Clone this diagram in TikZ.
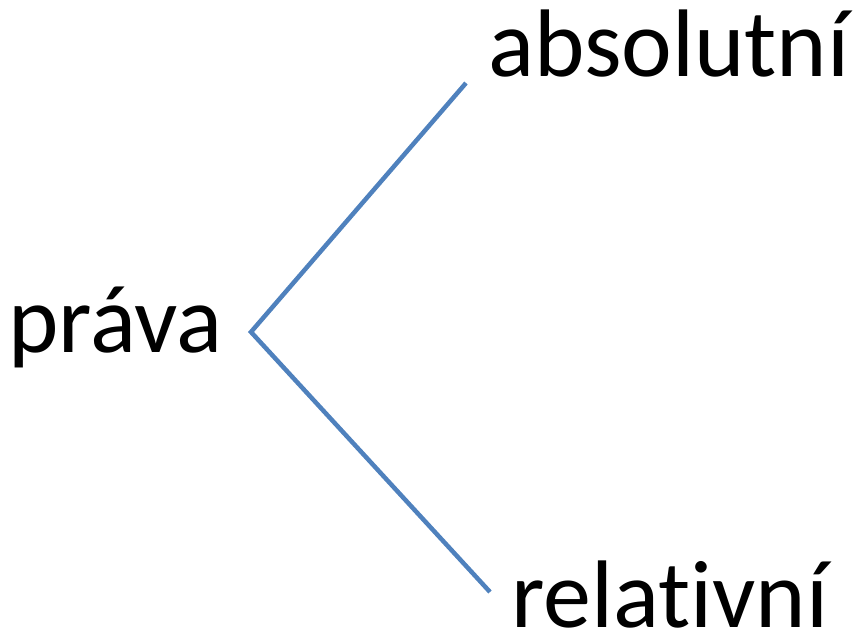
\documentclass[tikz,border=0pt]{standalone}
\usepackage{fontspec}
\setmainfont{Carlito}[Ligatures=NoCommon]
\definecolor{linkblue}{RGB}{79,129,189}
\begin{document}
\begin{tikzpicture}[x=1pt,y=-1pt,
  lbl/.style={anchor=base west,inner sep=0pt,text depth=0pt,font=\fontsize{96}{110}\selectfont},
  link/.style={draw=linkblue,line width=4.5pt}]
\useasboundingbox (0,0) rectangle (855,634);
\node[lbl] (prava) at (8,352) {práva};
\node[lbl] (abs) at (488,77) {absolutní};
\node[lbl] (rel) at (511,627) {relativní};
\coordinate (root) at (251,332);
\coordinate (top) at (466,83);
\coordinate (bot) at (490,592);
\draw[link] (top) -- (root) -- (bot);
\end{tikzpicture}
\end{document}
